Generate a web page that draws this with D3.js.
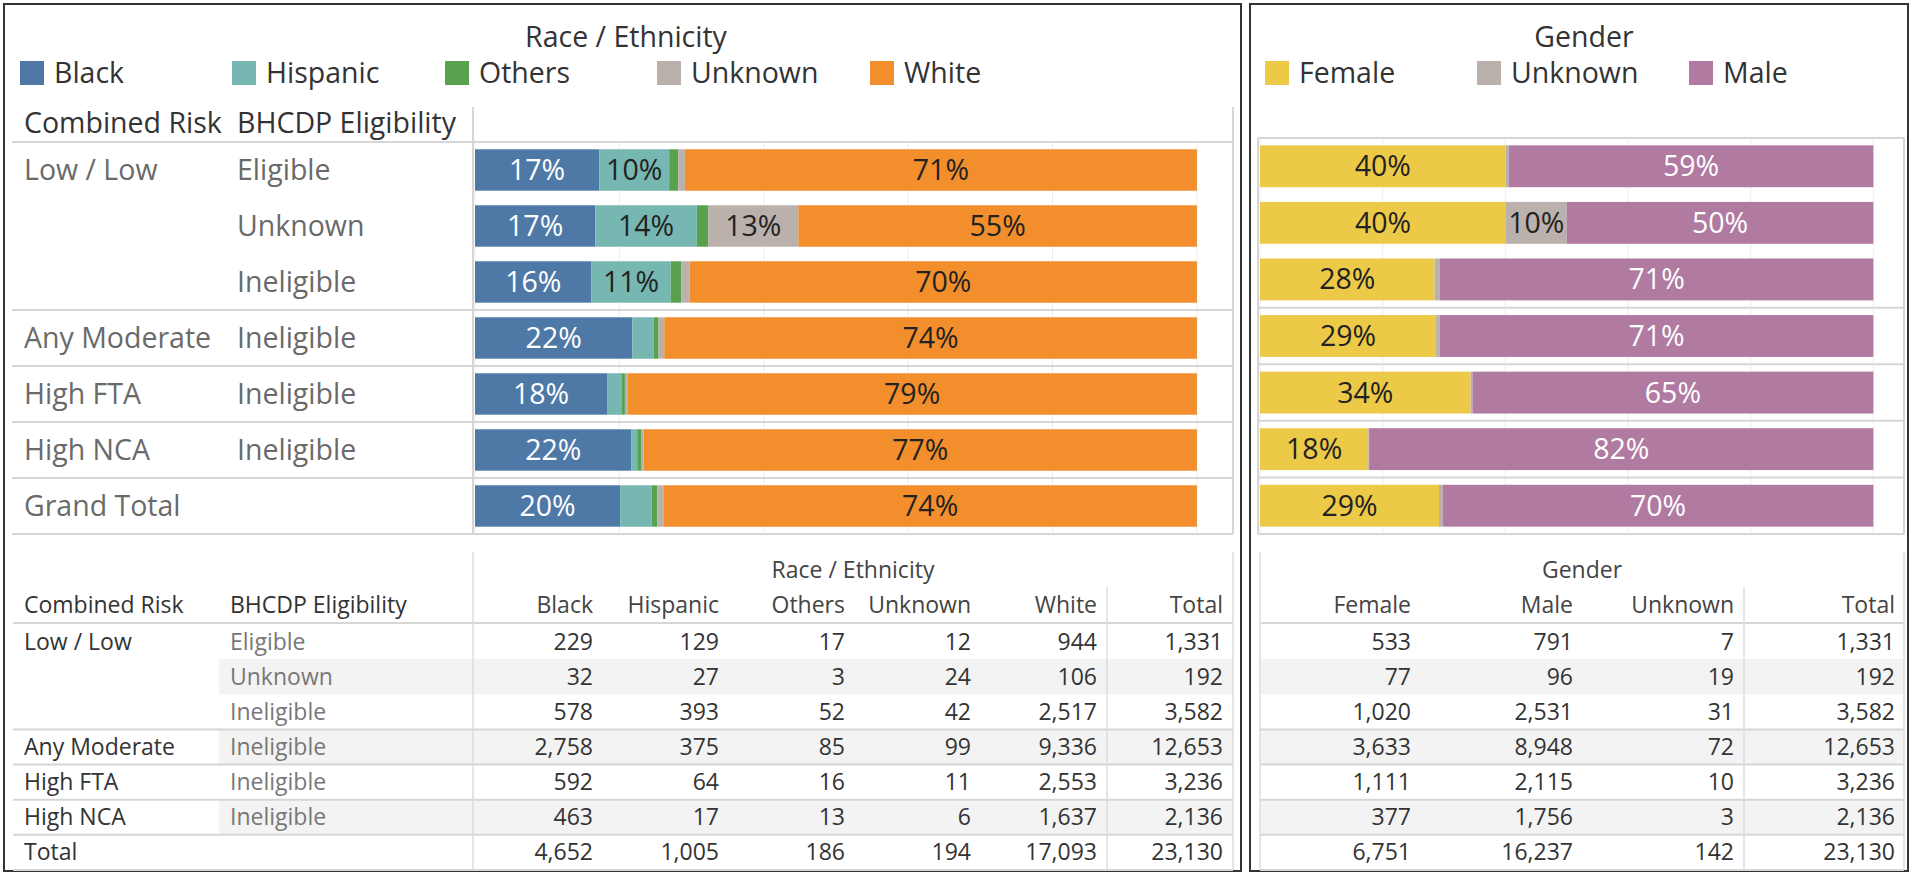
<!DOCTYPE html>
<html>
<head>
<meta charset="utf-8">
<script src="https://cdn.jsdelivr.net/npm/d3@7"></script>
<style>
  html, body { margin: 0; padding: 0; background: #fff; }
  svg { display: block; font-family: "Open Sans", "Noto Sans", sans-serif; }
</style>
</head>
<body>
<svg id="chart" width="1913" height="875"></svg>
<script>
  // row labels
  const riskLabels = ["Low / Low", "", "", "Any Moderate", "High FTA", "High NCA", "Grand Total"];
  const tableRiskLabels = ["Low / Low", "", "", "Any Moderate", "High FTA", "High NCA", "Total"];
  const eligLabels = ["Eligible", "Unknown", "Ineligible", "Ineligible", "Ineligible", "Ineligible", ""];

  // race / ethnicity counts
  const raceKeys = ["Black", "Hispanic", "Others", "Unknown", "White"];
  const raceBlack = [229, 32, 578, 2758, 592, 463, 4652];
  const raceHispanic = [129, 27, 393, 375, 64, 17, 1005];
  const raceOthers = [17, 3, 52, 85, 16, 13, 186];
  const raceUnknown = [12, 24, 42, 99, 11, 6, 194];
  const raceWhite = [944, 106, 2517, 9336, 2553, 1637, 17093];

  // gender counts
  const genderKeys = ["Female", "Unknown", "Male"];
  const genderTableKeys = ["Female", "Male", "Unknown"];
  const genderFemale = [533, 77, 1020, 3633, 1111, 377, 6751];
  const genderMale = [791, 96, 2531, 8948, 2115, 1756, 16237];
  const genderUnknown = [7, 19, 31, 72, 10, 3, 142];

  const rowTotals = [1331, 192, 3582, 12653, 3236, 2136, 23130];

  const xTicks = [0, 0.2, 0.4, 0.6, 0.8, 1.0];

  const raceSeries = {
    Black: raceBlack, Hispanic: raceHispanic, Others: raceOthers,
    Unknown: raceUnknown, White: raceWhite
  };
  const genderSeries = { Female: genderFemale, Male: genderMale, Unknown: genderUnknown };

  const raceColor = d3.scaleOrdinal().domain(raceKeys)
    .range(["#4e79a7", "#76b7b2", "#59a14f", "#bab0ac", "#f28e2b"]);
  const genderColor = d3.scaleOrdinal().domain(genderKeys)
    .range(["#edc948", "#bab0ac", "#b07aa1"]);
  const lightText = { Black: true, Male: true };

  const svg = d3.select("#chart");
  const fmt = d3.format(",");
  const pct = d3.format(".0%");
  const GRID = "#d6d6d6";
  const FS = 28.5;   // bar section font size
  const TS = 23;     // table font size

  // panel frames
  svg.append("rect").attr("x", 4).attr("y", 4).attr("width", 1237).attr("height", 867)
    .attr("fill", "none").attr("stroke", "#333").attr("stroke-width", 2);
  svg.append("rect").attr("x", 1250).attr("y", 4).attr("width", 658).attr("height", 867)
    .attr("fill", "none").attr("stroke", "#333").attr("stroke-width", 2);

  function text(g, x, y, str, opts) {
    opts = opts || {};
    return g.append("text")
      .attr("x", x).attr("y", y).attr("dy", "0.35em")
      .attr("font-size", opts.size || FS)
      .attr("fill", opts.color || "#333")
      .attr("text-anchor", opts.anchor || "start")
      .text(str);
  }

  function line(g, x1, y1, x2, y2, color, w) {
    g.append("line").attr("x1", x1).attr("y1", y1).attr("x2", x2).attr("y2", y2)
      .attr("stroke", color || GRID).attr("stroke-width", w || 2);
  }

  // legends + titles
  function legend(title, titleX, keys, color, xs) {
    const g = svg.append("g");
    text(g, titleX, 37, title, { anchor: "middle" });
    keys.forEach((k, i) => {
      g.append("rect").attr("x", xs[i]).attr("y", 61).attr("width", 24).attr("height", 24)
        .attr("fill", color(k));
      text(g, xs[i] + 34, 73, k);
    });
  }
  legend("Race / Ethnicity", 626, raceKeys, raceColor, [20, 232, 445, 657, 870]);
  legend("Gender", 1584, genderKeys, genderColor, [1265, 1477, 1689]);

  // ---------- stacked bars ----------
  function stackedBars(opts) {
    const g = svg.append("g");
    const y = d3.scaleBand().domain(d3.range(rowTotals.length)).range(opts.yRange);
    const x = d3.scaleLinear().domain([0, 1.05]).range(opts.xRange);
    const bh = y.bandwidth() * 0.74;

    // gridlines
    xTicks.forEach(t => line(g, x(t), opts.yRange[0], x(t), opts.yRange[1], "#ececec", 1));

    const rows = rowTotals.map((tot, i) => {
      let acc = 0;
      return opts.keys.map(k => {
        const v = opts.series[k][i] / tot;
        const seg = { key: k, row: i, x0: acc, x1: acc + v, v };
        acc += v;
        return seg;
      });
    });

    rows.forEach(segs => {
      const rg = g.append("g");
      rg.selectAll("rect").data(segs).join("rect")
        .attr("x", d => x(d.x0))
        .attr("width", d => x(d.x1) - x(d.x0))
        .attr("y", d => y(d.row) + (y.bandwidth() - bh) / 2)
        .attr("height", bh)
        .attr("fill", d => opts.color(d.key));
      rg.selectAll("text").data(segs.filter(d => d.v >= 0.06)).join("text")
        .attr("x", d => (x(d.x0) + x(d.x1)) / 2)
        .attr("y", d => y(d.row) + y.bandwidth() / 2)
        .attr("dy", "0.35em")
        .attr("text-anchor", "middle")
        .attr("font-size", FS)
        .attr("fill", d => lightText[d.key] ? "#fff" : "#222")
        .text(d => pct(d.v));
    });

    // group separators
    rowTotals.forEach((t, i) => {
      const last = i === rowTotals.length - 1;
      if (last || riskLabels[i + 1] !== "") {
        const yy = y(i) + y.bandwidth();
        line(g, opts.sepX[0], yy, opts.sepX[1], yy);
      }
    });
    return y;
  }

  const yRace = stackedBars({
    keys: raceKeys, series: raceSeries, color: raceColor,
    yRange: [142, 534], xRange: [475, 1233], sepX: [12, 1233]
  });
  stackedBars({
    keys: genderKeys, series: genderSeries, color: genderColor,
    yRange: [138, 534], xRange: [1260, 1904], sepX: [1258, 1904]
  });

  // frame lines of the bar sections
  const frame = svg.append("g");
  line(frame, 12, 142, 1233, 142);
  line(frame, 473, 107, 473, 534);
  line(frame, 1233, 107, 1233, 534);
  line(frame, 1258, 138, 1904, 138);
  line(frame, 1258, 138, 1258, 534);
  line(frame, 1904, 138, 1904, 534);

  // bar row headers
  const lab = svg.append("g");
  text(lab, 24, 123, "Combined Risk");
  text(lab, 237, 123, "BHCDP Eligibility");
  rowTotals.forEach((t, i) => {
    const cy = yRace(i) + yRace.bandwidth() / 2;
    text(lab, 24, cy, riskLabels[i], { color: "#6a6a6a" });
    text(lab, 237, cy, eligLabels[i], { color: "#6a6a6a" });
  });

  // ---------- crosstab tables ----------
  const yTab = d3.scaleBand().domain(d3.range(rowTotals.length)).range([624, 870]);
  const tab = svg.append("g");

  // banding
  rowTotals.forEach((t, i) => {
    if (i % 2 === 1) {
      tab.append("rect").attr("x", 219).attr("y", yTab(i)).attr("width", 1233 - 219)
        .attr("height", yTab.bandwidth()).attr("fill", "#f3f3f3");
      tab.append("rect").attr("x", 1260).attr("y", yTab(i)).attr("width", 1904 - 1260)
        .attr("height", yTab.bandwidth()).attr("fill", "#f3f3f3");
    }
  });

  // lines
  line(tab, 13, 623, 1233, 623);
  line(tab, 1260, 623, 1904, 623);
  rowTotals.forEach((t, i) => {
    const last = i === rowTotals.length - 1;
    if (last || tableRiskLabels[i + 1] !== "") {
      const yy = yTab(i) + yTab.bandwidth();
      line(tab, 13, yy, 1233, yy);
      line(tab, 1260, yy, 1904, yy);
    }
  });
  line(tab, 473, 552, 473, 870, "#dcdcdc", 1.5);
  line(tab, 1233, 552, 1233, 870, "#dcdcdc", 1.5);
  line(tab, 1107, 587, 1107, 870, "#dcdcdc", 1.5);
  line(tab, 1260, 552, 1260, 870, "#dcdcdc", 1.5);
  line(tab, 1904, 552, 1904, 870, "#dcdcdc", 1.5);
  line(tab, 1744, 587, 1744, 870, "#dcdcdc", 1.5);

  text(tab, 853, 570, "Race / Ethnicity", { size: TS, color: "#444", anchor: "middle" });
  text(tab, 1582, 570, "Gender", { size: TS, color: "#444", anchor: "middle" });
  text(tab, 24, 605, "Combined Risk", { size: TS });
  text(tab, 230, 605, "BHCDP Eligibility", { size: TS });

  const raceCols = raceKeys.concat(["Total"]);
  const raceColX = [593, 719, 845, 971, 1097, 1223];
  const genderCols = genderTableKeys.concat(["Total"]);
  const genderColX = [1411, 1573, 1734, 1895];

  raceCols.forEach((c, j) => text(tab, raceColX[j], 605, c, { size: TS, color: "#444", anchor: "end" }));
  genderCols.forEach((c, j) => text(tab, genderColX[j], 605, c, { size: TS, color: "#444", anchor: "end" }));

  rowTotals.forEach((tot, i) => {
    const cy = yTab(i) + yTab.bandwidth() / 2;
    text(tab, 24, cy, tableRiskLabels[i], { size: TS });
    text(tab, 230, cy, eligLabels[i], { size: TS, color: "#777" });
    raceCols.forEach((c, j) => {
      const v = c === "Total" ? tot : raceSeries[c][i];
      text(tab, raceColX[j], cy, fmt(v), { size: TS, anchor: "end" });
    });
    genderCols.forEach((c, j) => {
      const v = c === "Total" ? tot : genderSeries[c][i];
      text(tab, genderColX[j], cy, fmt(v), { size: TS, anchor: "end" });
    });
  });
</script>
</body>
</html>
